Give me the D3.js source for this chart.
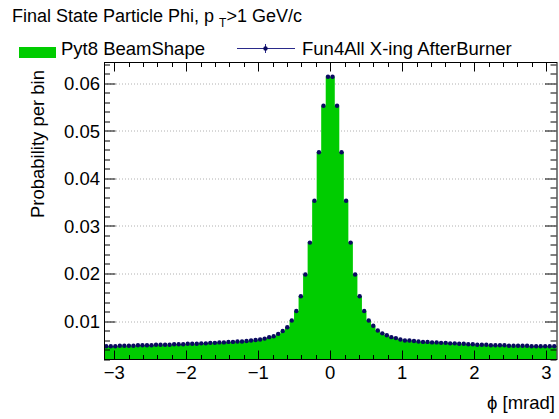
<!DOCTYPE html>
<html>
<head>
<meta charset="utf-8">
<script src="https://cdn.jsdelivr.net/npm/d3@7"></script>
<style>
  body { margin: 0; background: #fff; }
  text { font-family: "Liberation Sans", Arial, Helvetica, sans-serif; fill: #000; }
</style>
</head>
<body>
<div id="chart"></div>
<script>
// histogram binning: 100 bins over [-pi, pi]
const phiRange = [-Math.PI, Math.PI];
const nBins = 100;

// Pyt8 BeamShape (filled histogram), probability per bin
const pyt8Values = [
  0.0047, 0.0047, 0.0047, 0.0048, 0.0048, 0.0048, 0.0048, 0.0049, 0.0049, 0.0049,
  0.0049, 0.0050, 0.0050, 0.0050, 0.0050, 0.0051, 0.0051, 0.0051, 0.0052, 0.0052,
  0.0052, 0.0053, 0.0053, 0.0054, 0.0054, 0.0055, 0.0055, 0.0056, 0.0056, 0.0057,
  0.0057, 0.0058, 0.0059, 0.0060, 0.0061, 0.0063, 0.0066, 0.0068, 0.0073, 0.0079,
  0.0087, 0.0101, 0.0121, 0.0152, 0.0198, 0.0265, 0.0353, 0.0455, 0.0553, 0.0614,
  0.0614, 0.0553, 0.0455, 0.0353, 0.0265, 0.0198, 0.0152, 0.0121, 0.0101, 0.0090,
  0.0080, 0.0074, 0.0070, 0.0066, 0.0064, 0.0061, 0.0059, 0.0059, 0.0058, 0.0057,
  0.0056, 0.0056, 0.0055, 0.0055, 0.0054, 0.0054, 0.0053, 0.0053, 0.0052, 0.0052,
  0.0051, 0.0051, 0.0050, 0.0050, 0.0050, 0.0049, 0.0049, 0.0049, 0.0049, 0.0048,
  0.0048, 0.0048, 0.0048, 0.0048, 0.0047, 0.0047, 0.0047, 0.0047, 0.0047, 0.0047
];

// Fun4All X-ing AfterBurner (markers) - sits on top of the Pyt8 histogram
const fun4allValues = [
  0.0047, 0.0047, 0.0047, 0.0048, 0.0048, 0.0048, 0.0048, 0.0049, 0.0049, 0.0049,
  0.0049, 0.0050, 0.0050, 0.0050, 0.0050, 0.0051, 0.0051, 0.0051, 0.0052, 0.0052,
  0.0052, 0.0053, 0.0053, 0.0054, 0.0054, 0.0055, 0.0055, 0.0056, 0.0056, 0.0057,
  0.0057, 0.0058, 0.0059, 0.0060, 0.0061, 0.0063, 0.0066, 0.0068, 0.0073, 0.0079,
  0.0087, 0.0101, 0.0121, 0.0152, 0.0198, 0.0265, 0.0353, 0.0455, 0.0553, 0.0614,
  0.0614, 0.0553, 0.0455, 0.0353, 0.0265, 0.0198, 0.0152, 0.0121, 0.0101, 0.0090,
  0.0080, 0.0074, 0.0070, 0.0066, 0.0064, 0.0061, 0.0059, 0.0059, 0.0058, 0.0057,
  0.0056, 0.0056, 0.0055, 0.0055, 0.0054, 0.0054, 0.0053, 0.0053, 0.0052, 0.0052,
  0.0051, 0.0051, 0.0050, 0.0050, 0.0050, 0.0049, 0.0049, 0.0049, 0.0049, 0.0048,
  0.0048, 0.0048, 0.0048, 0.0048, 0.0047, 0.0047, 0.0047, 0.0047, 0.0047, 0.0047
];

const xTicks = [-3, -2, -1, 0, 1, 2, 3];
const yTicks = [0.01, 0.02, 0.03, 0.04, 0.05, 0.06];
const yDomain = [0.0019, 0.0644];

const W = 559, H = 419;
const margin = { top: 62.5, right: 2.5, bottom: 59.5, left: 104 };
const width = W - margin.left - margin.right;
const height = H - margin.top - margin.bottom;

const svg = d3.select("#chart")
    .append("svg")
    .attr("width", W)
    .attr("height", H);

const g = svg.append("g")
    .attr("transform", `translate(${margin.left},${margin.top})`);

const x = d3.scaleLinear().domain(phiRange).range([0, width]);
const y = d3.scaleLinear().domain(yDomain).range([height, 0]);

const binW = (phiRange[1] - phiRange[0]) / nBins;
const bins = pyt8Values.map((v, i) => ({
    x0: phiRange[0] + i * binW,
    x1: phiRange[0] + (i + 1) * binW,
    v: v,
    f: fun4allValues[i]
}));

// grid lines (dotted, y only)
g.append("g")
    .selectAll("line")
    .data(yTicks)
    .enter()
    .append("line")
    .attr("x1", 0)
    .attr("x2", width)
    .attr("y1", d => Math.round(y(d)) + 0.5)
    .attr("y2", d => Math.round(y(d)) + 0.5)
    .style("stroke", "#b0b0b0")
    .style("stroke-width", 1)
    .style("stroke-dasharray", "1,2");

// filled histogram
const stepPts = bins.map(b => [b.x0, b.v]).concat([[phiRange[1], pyt8Values[nBins - 1]]]);
const area = d3.area()
    .curve(d3.curveStepAfter)
    .x(d => x(d[0]))
    .y0(height)
    .y1(d => y(d[1]));

g.append("path")
    .datum(stepPts)
    .attr("d", area)
    .style("fill", "#00cc00")
    .style("stroke", "none");

// markers
g.append("g")
    .selectAll("circle")
    .data(bins)
    .enter()
    .append("circle")
    .attr("cx", d => x((d.x0 + d.x1) / 2))
    .attr("cy", d => y(d.f))
    .attr("r", 2.2)
    .style("fill", "#0a0a60");

// axes: ticks on all four sides, pointing inward
const xMinor = d3.range(-3.0, 3.01, 0.2).filter(v => Math.abs(v - Math.round(v)) > 1e-6);
const yMinor = d3.range(0.002, 0.0645, 0.002).filter(v => v >= yDomain[0] && Math.abs(v * 100 - Math.round(v * 100)) > 1e-6);

const ticks = g.append("g").style("stroke", "#000").style("stroke-width", 1);

function xTickLines(vals, len) {
    vals.forEach(v => {
        const px = Math.round(x(v)) + 0.5;
        ticks.append("line").attr("x1", px).attr("x2", px).attr("y1", height).attr("y2", height - len);
        ticks.append("line").attr("x1", px).attr("x2", px).attr("y1", 0).attr("y2", len);
    });
}
function yTickLines(vals, len) {
    vals.forEach(v => {
        const py = Math.round(y(v)) + 0.5;
        ticks.append("line").attr("x1", 0).attr("x2", len).attr("y1", py).attr("y2", py);
        ticks.append("line").attr("x1", width).attr("x2", width - len).attr("y1", py).attr("y2", py);
    });
}
xTickLines(xTicks, 9);
xTickLines(xMinor, 4.5);
yTickLines(yTicks, 11.5);
yTickLines(yMinor, 6);

// frame
g.append("rect")
    .attr("x", 0.5)
    .attr("y", 0)
    .attr("width", width)
    .attr("height", height)
    .style("fill", "none")
    .style("stroke", "#000")
    .style("stroke-width", 1);

// tick labels
const fmtX = d => d < 0 ? "\u2212" + Math.abs(d) : String(d);
g.append("g")
    .selectAll("text")
    .data(xTicks)
    .enter()
    .append("text")
    .attr("x", d => x(d))
    .attr("y", height + 19)
    .attr("text-anchor", "middle")
    .style("font-size", "18.5px")
    .text(fmtX);

g.append("g")
    .selectAll("text")
    .data(yTicks)
    .enter()
    .append("text")
    .attr("x", -4)
    .attr("y", d => y(d))
    .attr("dy", "0.36em")
    .attr("text-anchor", "end")
    .style("font-size", "18.5px")
    .text(d => d.toFixed(2));

// axis titles
svg.append("text")
    .attr("x", 555)
    .attr("y", 409)
    .attr("text-anchor", "end")
    .style("font-size", "18.5px")
    .text("\u03D5 [mrad]");

svg.append("text")
    .attr("transform", "translate(44,70) rotate(-90)")
    .attr("text-anchor", "end")
    .style("font-size", "18.5px")
    .text("Probability per bin");

// title
const title = svg.append("text")
    .attr("x", 12)
    .attr("y", 22)
    .style("font-size", "18px");
title.append("tspan").text("Final State Particle Phi, p ");
title.append("tspan").attr("dy", 5).style("font-size", "12px").text("T");
title.append("tspan").attr("dy", -5).text(">1 GeV/c");

// legend
svg.append("rect")
    .attr("x", 19)
    .attr("y", 47)
    .attr("width", 37)
    .attr("height", 11)
    .style("fill", "#00cc00");
svg.append("text")
    .attr("x", 61)
    .attr("y", 55)
    .style("font-size", "18.5px")
    .text("Pyt8 BeamShape");

svg.append("line")
    .attr("x1", 237).attr("x2", 295)
    .attr("y1", 48.5).attr("y2", 48.5)
    .style("stroke", "#2a2a8a")
    .style("stroke-width", 1);
svg.append("line")
    .attr("x1", 265.5).attr("x2", 265.5)
    .attr("y1", 44).attr("y2", 53)
    .style("stroke", "#2a2a8a")
    .style("stroke-width", 1);
svg.append("circle")
    .attr("cx", 265.5)
    .attr("cy", 48.5)
    .attr("r", 2.2)
    .style("fill", "#0a0a60");
svg.append("text")
    .attr("x", 302)
    .attr("y", 55)
    .style("font-size", "18.5px")
    .text("Fun4All X-ing AfterBurner");
</script>
</body>
</html>
